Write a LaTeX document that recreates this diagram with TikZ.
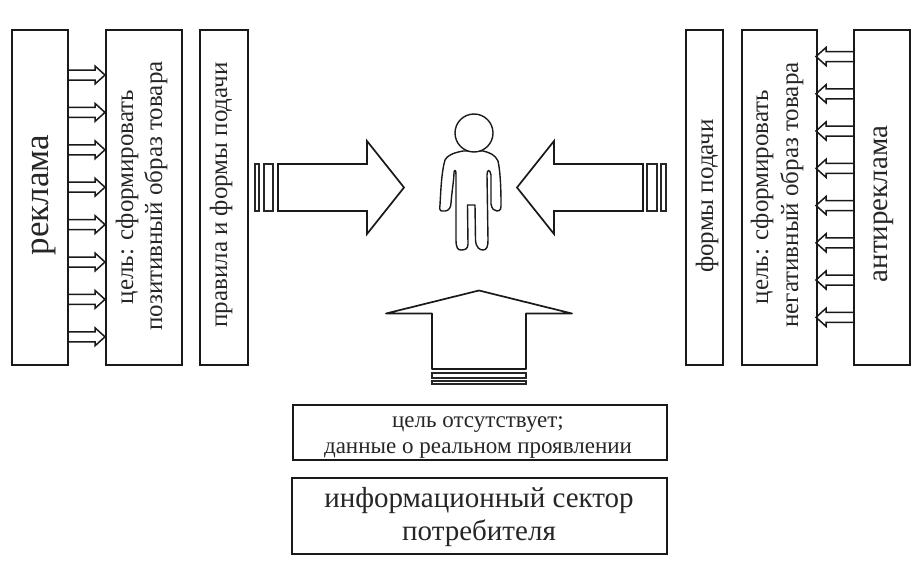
\documentclass[tikz,border=0pt]{standalone}
\usepackage{fontspec}
\setmainfont{Liberation Serif}
\tikzset{
  x=1pt,y=-1pt,
  ink/.style={draw=black!90,line width=1.7pt,line join=miter},
  box/.style={ink,inner sep=0pt,anchor=north west},
  vlabel/.style={rotate=90,inner sep=0pt,anchor=base,text=black!85},
  hlabel/.style={inner sep=0pt,anchor=base,text=black!85},
  thinbar/.style={draw=black!85,line width=1.3pt,fill=white},
  small arrow/.style={draw=black!90,line width=1.5pt,line join=miter,fill=white},
  figure line/.style={draw=black!90,line width=1.4pt,line join=round,fill=white}
}
\newcommand{\boxat}[5]{\node[box,minimum width=#4pt,minimum height=#5pt] (#1) at (#2,#3) {};}
\begin{document}
\begin{tikzpicture}
\useasboundingbox (0,0) rectangle (916,562);
% small arrows left
\foreach \y in {75,112.4,149.8,187.2,224.6,262,299.4,336.8}{
  \draw[small arrow] (67,\y-5) -- (95,\y-5) -- (95,\y-9) -- (105,\y) -- (95,\y+9) -- (95,\y+5) -- (67,\y+5);
}
% small arrows right
\foreach \y in {56.5,93.8,131,168.3,205.5,242.8,280,317.3}{
  \draw[small arrow] (853,\y-5) -- (826,\y-5) -- (826,\y-9) -- (816,\y) -- (826,\y+9) -- (826,\y+5) -- (853,\y+5);
}
% boxes
\boxat{rekl}{11}{29}{56}{335}
\boxat{goalL}{105}{29}{76}{335}
\boxat{rules}{199}{29}{48}{335}
\boxat{forms}{685}{29}{37}{335}
\boxat{goalR}{741}{29}{75}{335}
\boxat{anti}{853}{29}{56}{335}
\boxat{nogoal}{292}{404}{374}{55}
\boxat{sector}{291}{477}{375}{76}
% big arrow from left
\draw[ink] (278,164) -- (367,164) -- (367,141) -- (404,187.5) -- (367,234) -- (367,211) -- (278,211) -- cycle;
\draw[thinbar] (255,164) rectangle (259,211);
\draw[thinbar] (264,164) rectangle (273,211);
% big arrow from right
\draw[ink] (643,164) -- (554,164) -- (554,141) -- (517,187.5) -- (554,234) -- (554,211) -- (643,211) -- cycle;
\draw[thinbar] (647,164) rectangle (657,211);
\draw[thinbar] (661,164) rectangle (666,211);
% big arrow from below
\draw[ink,line join=round] (432,369) -- (432,313.5) -- (386,313.5) -- (479,290.5) -- (572,313.5) -- (526,313.5) -- (526,369) -- cycle;
\draw[thinbar] (432,373) rectangle (526,378);
\draw[thinbar] (432,381) rectangle (526,384);
% person
\draw[figure line] (463,151) .. controls (452,153) and (447,156) .. (445,160)
  .. controls (442,170) and (441,185) .. (440,205)
  .. controls (439,212) and (441,211) .. (445,211)
  .. controls (449,211) and (451,207) .. (451,203)
  .. controls (452,190) and (454,180) .. (454,172)
  .. controls (455,169) and (456,170) .. (456,175)
  -- (456,240)
  .. controls (456,248) and (458,250) .. (461,250)
  .. controls (465,250) and (468,249) .. (468,244)
  -- (467.5,205) -- (475,205) -- (475.5,240)
  .. controls (476,248) and (480,250) .. (483,250)
  .. controls (487,250) and (488,246) .. (488,240)
  -- (487,175)
  .. controls (487,169) and (490,169) .. (491,175)
  -- (491,204)
  .. controls (492,209) and (494,211) .. (497,211)
  .. controls (501,211) and (501,208) .. (501,204)
  .. controls (501,185) and (500,170) .. (498,161)
  .. controls (495,155) and (491,153) .. (483,151)
  -- cycle;
\node[draw=black!90,line width=1.4pt,fill=white,circle,minimum size=38pt,inner sep=0pt] (head) at (474,133) {};
% labels
\node[vlabel,font=\fontsize{35}{38}\selectfont] (treklama) at (48,195) {реклама};
\node[vlabel,font=\fontsize{25}{28}\selectfont] (t1) at (133,197) {цель: сформировать};
\node[vlabel,font=\fontsize{25}{28}\selectfont] (t2) at (162,196) {позитивный образ товара};
\node[vlabel,font=\fontsize{25}{28}\selectfont] (t3) at (227,195) {правила и формы подачи};
\node[vlabel,font=\fontsize{25}{28}\selectfont] (t4) at (713,196) {формы подачи};
\node[vlabel,font=\fontsize{25}{28}\selectfont] (t5) at (768,197) {цель: сформировать};
\node[vlabel,font=\fontsize{25}{28}\selectfont] (t6) at (798,195) {негативный образ товара};
\node[vlabel,font=\fontsize{29}{32}\selectfont] (tanti) at (887,204) {антиреклама};
\node[hlabel,font=\fontsize{23}{26}\selectfont] (t7) at (478,427) {цель отсутствует;};
\node[hlabel,font=\fontsize{23}{26}\selectfont] (t8) at (478,453) {данные о реальном проявлении};
\node[hlabel,font=\fontsize{29}{32}\selectfont] (t9) at (479,507) {информационный сектор};
\node[hlabel,font=\fontsize{29}{32}\selectfont] (t10) at (479,540) {потребителя};
\end{tikzpicture}
\end{document}
